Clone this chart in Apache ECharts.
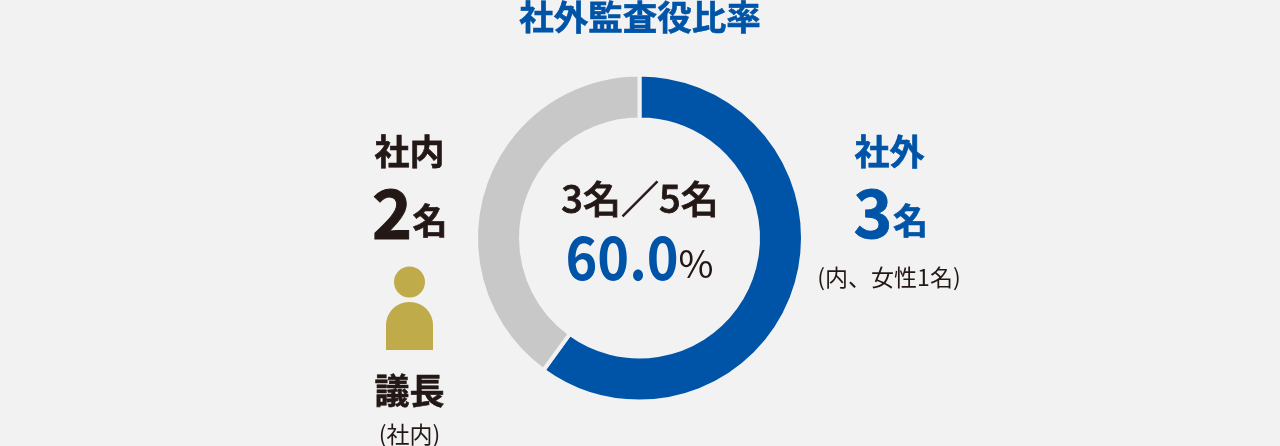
<!DOCTYPE html>
<html><head><meta charset="utf-8">
<style>html,body{margin:0;padding:0;background:#f2f2f2}#c{width:1280px;height:446px}</style>
<script src="https://cdn.jsdelivr.net/npm/echarts@6/dist/echarts.min.js"></script></head>
<body><div id="c"></div>
<script>
const categories = ['社外', '社内'];
const values = [3, 2];
const colors = ['#0054a7', '#c8c8c8'];
const title = '社外監査役比率';
const FONT = '"Noto Sans CJK JP","Noto Sans",sans-serif';
const BLUE = '#0054a7', DARK = '#231815';
const chart = echarts.init(document.getElementById('c'), null, {renderer:'canvas'});
function t(x, y, text, size, fill, weight, stroke){
  const style = {text, fontSize:size, fontWeight:weight||'normal', fill,
    fontFamily:FONT, align:'center', verticalAlign:'middle'};
  if (stroke) { style.stroke = fill; style.lineWidth = stroke; }
  return {type:'text', x, y, z:10, style};
}
chart.setOption({
  backgroundColor:'#f2f2f2',
  animation:false,
  series:[{
    type:'pie', center:[639.5,238], radius:[118.5,163.5], startAngle:90, clockwise:true,
    label:{show:false}, labelLine:{show:false}, silent:true,
    data:categories.map((name,i)=>({name, value:values[i], itemStyle:{color:colors[i], borderColor:'#f2f2f2', borderWidth:4}}))
  }],
  graphic:[
    t(640,17,title,34.5,BLUE,'bold',0.6),
    t(409.5,152,categories[1],35,DARK,'bold',0.6),
    t(392,213,'2',68,DARK,'bold',1),
    t(430,221,'名',35,DARK,'bold',0.6),
    {type:'circle', z:10, shape:{cx:409.5,cy:282,r:15.5}, style:{fill:'#c0ab4a'}},
    {type:'rect', z:10, shape:{x:386,y:302,width:47,height:48,r:[23,23,0,0]}, style:{fill:'#c0ab4a'}},
    t(409.5,391,'議長',35,DARK,'bold',0.6),
    t(409.5,434,'(社内)',23,DARK),
    t(889.5,152,categories[0],35,BLUE,'bold',0.6),
    t(873,213,'3',66,BLUE,'bold',0.8),
    t(910.5,221,'名',35,BLUE,'bold',0.6),
    t(889,277,'(内、女性1名)',23,DARK),
    t(640,199,'3名／5名',38,DARK,'500',0.8),
    Object.assign(t(622,257,'60.0',60,BLUE,'bold'),{scaleX:0.9}),
    t(696,264,'%',38,DARK)
  ]
});
</script></body></html>
